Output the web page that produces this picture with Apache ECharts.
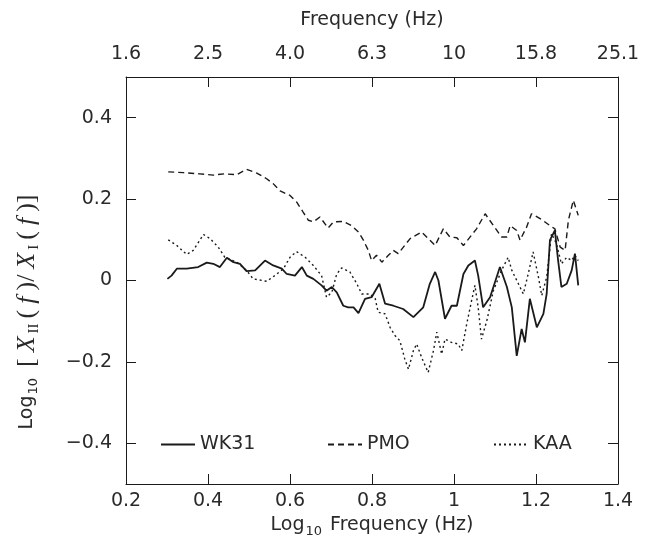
<!DOCTYPE html>
<html>
<head>
<meta charset="utf-8">
<script src="https://cdn.jsdelivr.net/npm/echarts@6/dist/echarts.min.js"></script>
<style>html,body{margin:0;padding:0;background:#fff;}#c{width:646px;height:542px;}</style>
</head>
<body>
<div id="c"></div>
<script>
// Log10 frequency ticks (bottom) and frequency tick labels (top)
const xTicks = [0.2, 0.4, 0.6, 0.8, 1.0, 1.2, 1.4];
const topLabels = ['1.6', '2.5', '4.0', '6.3', '10', '15.8', '25.1'];
const yTicks = [-0.4, -0.2, 0, 0.2, 0.4];

// WK31 (solid)
const wk31X = [0.301,0.311,0.324,0.348,0.376,0.397,0.413,0.429,0.446,0.462,0.478,0.494,0.515,0.539,0.559,0.580,0.592,0.612,0.629,0.641,0.657,0.677,0.689,0.702,0.714,0.730,0.742,0.755,0.767,0.783,0.799,0.818,0.832,0.852,0.876,0.901,0.925,0.941,0.954,0.962,0.978,0.994,1.007,1.023,1.035,1.051,1.059,1.071,1.088,1.112,1.129,1.141,1.153,1.165,1.173,1.185,1.202,1.218,1.226,1.234,1.246,1.254,1.262,1.275,1.287,1.295,1.303];
const wk31Y = [0.004,0.012,0.029,0.029,0.033,0.044,0.041,0.033,0.056,0.045,0.041,0.023,0.025,0.049,0.037,0.029,0.016,0.012,0.033,0.012,0.004,-0.012,-0.025,-0.016,-0.029,-0.062,-0.066,-0.066,-0.080,-0.045,-0.041,-0.008,-0.057,-0.062,-0.070,-0.090,-0.066,-0.008,0.021,0.000,-0.094,-0.062,-0.062,0.016,0.037,0.049,0.012,-0.066,-0.041,0.033,-0.016,-0.066,-0.185,-0.119,-0.152,-0.045,-0.115,-0.082,-0.033,0.099,0.123,0.049,-0.016,-0.008,0.025,0.066,-0.012];

// PMO (dashed)
const pmoX = [0.303,0.340,0.380,0.413,0.440,0.470,0.494,0.519,0.543,0.559,0.576,0.600,0.616,0.632,0.645,0.657,0.673,0.693,0.706,0.730,0.750,0.767,0.779,0.791,0.799,0.811,0.824,0.840,0.852,0.864,0.893,0.921,0.954,0.974,0.990,1.007,1.023,1.055,1.076,1.096,1.116,1.129,1.137,1.153,1.161,1.177,1.189,1.210,1.234,1.246,1.259,1.271,1.279,1.291,1.303];
const pmoY = [0.267,0.265,0.262,0.259,0.262,0.260,0.273,0.264,0.250,0.238,0.220,0.209,0.193,0.168,0.148,0.144,0.156,0.129,0.144,0.145,0.135,0.119,0.099,0.074,0.049,0.062,0.045,0.062,0.074,0.066,0.103,0.119,0.086,0.127,0.107,0.105,0.086,0.127,0.164,0.135,0.107,0.107,0.135,0.123,0.099,0.131,0.164,0.152,0.135,0.127,0.082,0.074,0.148,0.197,0.160];

// KAA (dotted)
const kaaX = [0.303,0.324,0.348,0.364,0.389,0.405,0.425,0.441,0.470,0.494,0.510,0.543,0.563,0.584,0.600,0.616,0.637,0.657,0.677,0.689,0.702,0.714,0.726,0.746,0.763,0.775,0.795,0.808,0.815,0.832,0.844,0.856,0.868,0.880,0.889,0.901,0.909,0.921,0.937,0.950,0.958,0.970,0.978,0.994,1.010,1.019,1.031,1.043,1.051,1.059,1.067,1.080,1.096,1.116,1.132,1.141,1.157,1.169,1.181,1.193,1.206,1.214,1.226,1.238,1.250,1.262,1.275,1.287,1.295,1.303];
const kaaY = [0.100,0.086,0.064,0.074,0.113,0.103,0.082,0.057,0.045,0.025,0.004,-0.002,0.012,0.029,0.057,0.071,0.057,0.037,0.012,-0.041,-0.029,0.016,0.031,0.021,-0.008,-0.033,-0.033,-0.045,-0.078,-0.082,-0.115,-0.135,-0.148,-0.193,-0.218,-0.172,-0.156,-0.189,-0.226,-0.172,-0.127,-0.181,-0.144,-0.152,-0.156,-0.172,-0.107,-0.049,-0.012,-0.066,-0.144,-0.099,-0.025,0.025,0.057,0.025,-0.008,-0.033,0.016,0.070,0.008,-0.037,0.008,0.115,0.090,0.041,0.057,0.049,0.062,0.049];

const pairs = (xs, ys) => xs.map((x, i) => [x, ys[i]]);
const INK = '#1a1a1a';
const TXT = '#2a2a2a';
const FONT = 'DejaVu Sans';
const FS = 19;
const fmtY = v => (Math.abs(v) < 1e-9 ? '0' : (v < 0 ? '\u2212' + Math.abs(v).toFixed(1) : v.toFixed(1)));
const fmtX = v => (Math.abs(v - 1) < 1e-9 ? '1' : v.toFixed(1));
const topFmt = v => { const i = xTicks.findIndex(t => Math.abs(t - v) < 1e-6); return i >= 0 ? topLabels[i] : ''; };

const axisLine = { show: true, onZero: false, lineStyle: { color: INK, width: 1 } };
const tick = { show: true, inside: true, length: 10, lineStyle: { color: INK, width: 1 } };
const lbl = { color: TXT, fontFamily: FONT, fontSize: FS };
const hideSym = { color: 'rgba(0,0,0,0)', borderColor: 'rgba(0,0,0,0)', borderWidth: 0 };
const legTxt = { color: TXT, fontFamily: FONT, fontSize: FS };

const chart = echarts.init(document.getElementById('c'), null, { renderer: 'canvas' });
chart.setOption({
  backgroundColor: '#fff',
  animation: false,
  grid: { left: 126, right: 28, top: 77, bottom: 58, containLabel: false, outerBoundsMode: 'none' },
  legend: [
    { data: ['WK31'], left: 155, top: 430, itemWidth: 34, itemHeight: 10, itemStyle: hideSym, textStyle: legTxt },
    { data: ['PMO'], left: 322, top: 430, itemWidth: 34, itemHeight: 10, itemStyle: hideSym, textStyle: legTxt },
    { data: ['KAA'], left: 488, top: 430, itemWidth: 34, itemHeight: 10, itemStyle: hideSym, textStyle: legTxt }
  ],
  xAxis: [
    {
      type: 'value', position: 'bottom', min: 0.2, max: 1.4, interval: 0.2,
      axisLine: axisLine, axisTick: Object.assign({}, tick, { customValues: xTicks }),
      splitLine: { show: false },
      axisLabel: Object.assign({}, lbl, { margin: 8, customValues: xTicks, formatter: fmtX }),
      name: '{a|Log}{s|10}{a| Frequency (Hz)}', nameLocation: 'middle', nameGap: 27,
      nameTextStyle: { rich: { a: { color: TXT, fontFamily: FONT, fontSize: FS }, s: { color: TXT, fontFamily: FONT, fontSize: 13, padding: [12,2,0,1] } } }
    },
    {
      type: 'value', position: 'top', min: 0.2, max: 1.4, interval: 0.2,
      axisLine: axisLine, axisTick: Object.assign({}, tick, { customValues: xTicks }),
      splitLine: { show: false },
      axisLabel: Object.assign({}, lbl, { margin: 13, customValues: xTicks, formatter: topFmt }),
      name: 'Frequency (Hz)', nameLocation: 'middle', nameGap: 47,
      nameTextStyle: { color: TXT, fontFamily: FONT, fontSize: FS }
    }
  ],
  yAxis: [
    {
      type: 'value', position: 'left', min: -0.5, max: 0.5,
      axisLine: axisLine, axisTick: Object.assign({}, tick, { customValues: yTicks }),
      splitLine: { show: false },
      axisLabel: Object.assign({}, lbl, { margin: 14, customValues: yTicks, formatter: fmtY }),
      name: '{a|Log}{s|10}{a| }{m|[}{i|X}{r|II}{m|(}{i|f}{m|)/}{i|X}{r|I}{m|(}{i|f}{m|)]}',
      nameLocation: 'middle', nameGap: 84, nameRotate: 90,
      nameTextStyle: {
        padding: [0, 60, 0, 0],
        rich: {
          a: { color: TXT, fontFamily: FONT, fontSize: FS },
          s: { color: TXT, fontFamily: FONT, fontSize: 13, padding: [12,2,0,1] },
          m: { color: TXT, fontFamily: 'Liberation Serif', fontSize: 26, padding: [0,3,0,3] },
          i: { color: TXT, fontFamily: 'Liberation Serif', fontStyle: 'italic', fontSize: 26, padding: [0,3,0,3] },
          r: { color: TXT, fontFamily: 'Liberation Serif', fontSize: 15, padding: [14,2,0,0] }
        }
      }
    },
    {
      type: 'value', position: 'right', min: -0.5, max: 0.5,
      axisLine: axisLine, axisTick: Object.assign({}, tick, { customValues: yTicks }),
      splitLine: { show: false }, axisLabel: { show: false }
    }
  ],
  series: [
    { name: 'WK31', type: 'line', data: pairs(wk31X, wk31Y), showSymbol: false, symbol: 'none',
      lineStyle: { color: INK, width: 1.8, type: 'solid' }, itemStyle: { color: INK } },
    { name: 'PMO', type: 'line', data: pairs(pmoX, pmoY), showSymbol: false, symbol: 'none',
      lineStyle: { color: INK, width: 1.4, type: [6, 4] }, itemStyle: { color: INK } },
    { name: 'KAA', type: 'line', data: pairs(kaaX, kaaY), showSymbol: false, symbol: 'none',
      lineStyle: { color: INK, width: 1.4, type: [2, 3] }, itemStyle: { color: INK } }
  ]
});
</script>
</body>
</html>
